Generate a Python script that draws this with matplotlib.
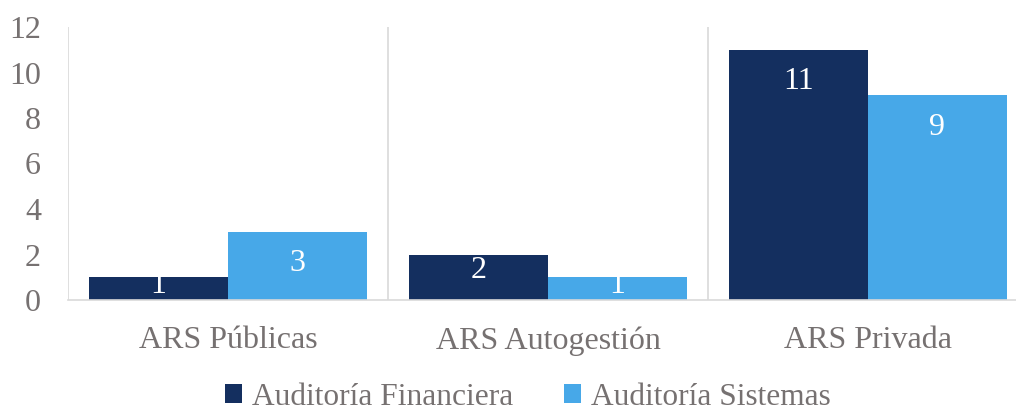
import matplotlib.pyplot as plt
import numpy as np

categories = ['ARS Públicas', 'ARS Autogestión', 'ARS Privada']
financiera = [1, 2, 11]
sistemas = [3, 1, 9]
series_names = ['Auditoría Financiera', 'Auditoría Sistemas']
yticks = [0, 2, 4, 6, 8, 10, 12]

dark = '#142F5F'
light = '#47A8E8'
gray_txt = '#767171'
grid_c = '#D9D9D9'

plt.rcParams['font.family'] = ['Liberation Serif', 'DejaVu Serif']

fig = plt.figure(figsize=(10.16, 4.11), dpi=100)
ax = fig.add_axes([68 / 1016, 1 - 300 / 411, 948 / 1016, 273 / 411])

x = np.arange(len(categories))
w = 0.434
b1 = ax.bar(x - w / 2, financiera, w, color=dark, label=series_names[0])
b2 = ax.bar(x + w / 2, sistemas, w, color=light, label=series_names[1])

# labels sit inside the bar end; short bars push them down less
px_per_unit = 273 / 12
for bars in (b1, b2):
    for r in bars:
        h = r.get_height()
        h_px = h * px_per_unit
        off_px = 32 if h_px >= 60 else h_px * 0.35
        ax.annotate(str(int(h)), (r.get_x() + r.get_width() / 2, h),
                    xytext=(0, -off_px * 0.72), textcoords='offset points',
                    ha='center', va='center', color='white', fontsize=23,
                    annotation_clip=False)

ax.set_xlim(-0.5, 2.5 - 12 / 320)
ax.set_ylim(0, 12)
ax.set_yticks(yticks)
ax.set_xticks(x)
ax.set_xticklabels(categories)
ax.tick_params(axis='both', length=0, labelsize=23, colors=gray_txt)
ax.tick_params(axis='x', pad=19)
ax.tick_params(axis='y', pad=19.5)

for b in [-0.5, 0.5, 1.5]:
    ax.axvline(b, color=grid_c, lw=1.2, zorder=0)

for s in ['top', 'right', 'left']:
    ax.spines[s].set_visible(False)
ax.spines['bottom'].set_color(grid_c)
ax.spines['bottom'].set_linewidth(1.2)

leg = fig.legend(loc='center', bbox_to_anchor=(528 / 1016, 1 - 397 / 411), ncol=2, frameon=False,
                 fontsize=22.6, handlelength=0.54, handleheight=0.54, handletextpad=0.32,
                 columnspacing=1.6, borderpad=0)
for t in leg.get_texts():
    t.set_color(gray_txt)

fig.savefig('out.png', dpi=100)
